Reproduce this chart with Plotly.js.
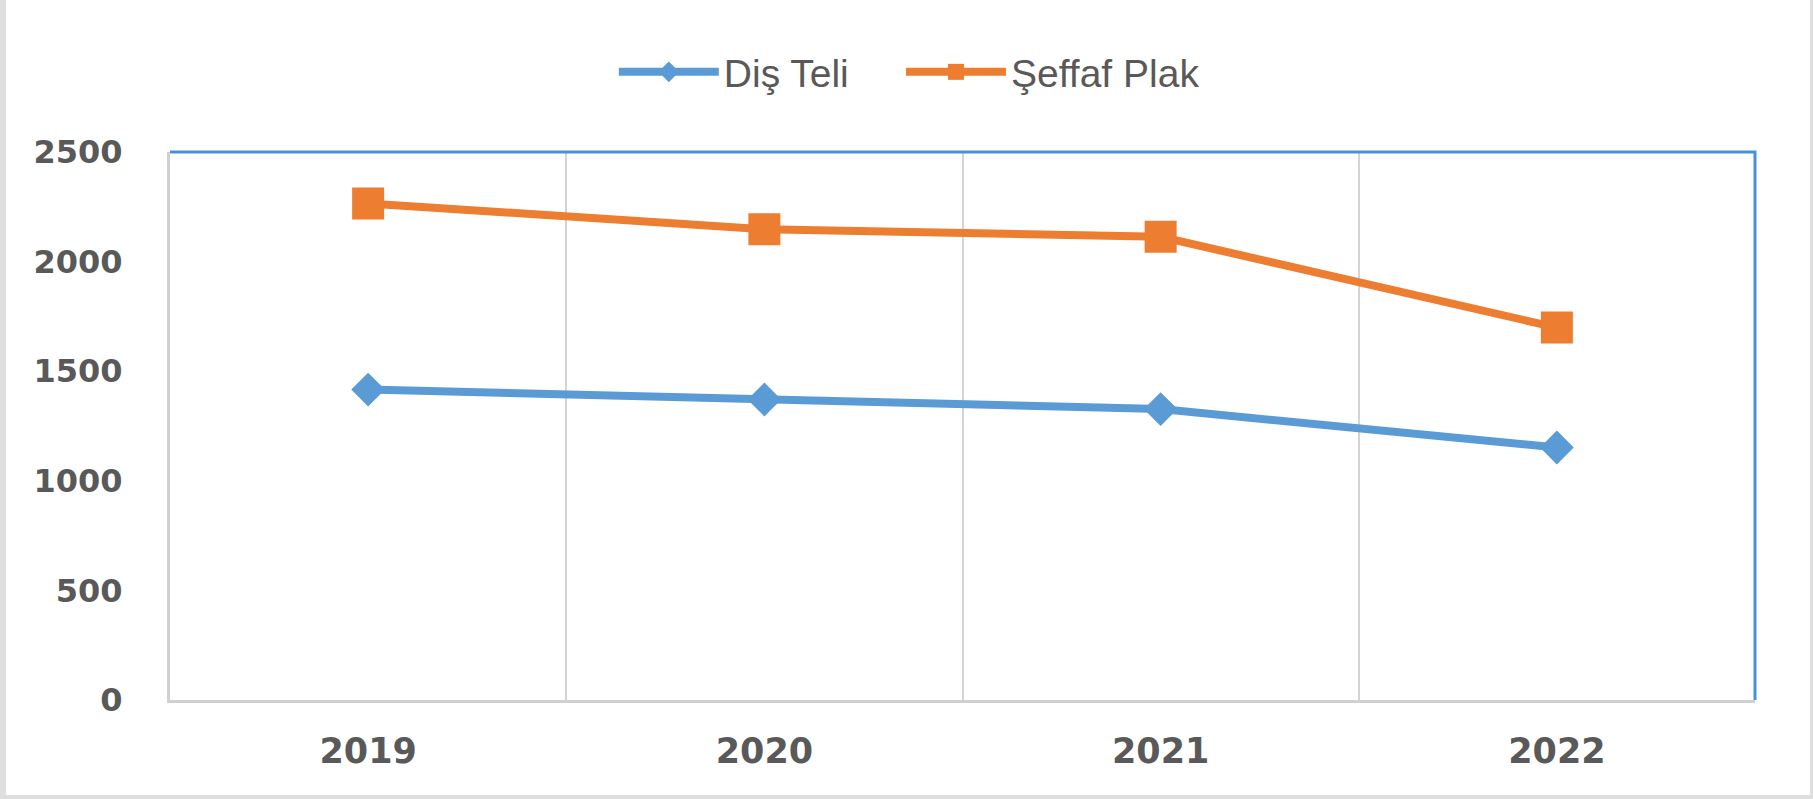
<!DOCTYPE html>
<html>
<head>
<meta charset="utf-8">
<script src="https://cdn.plot.ly/plotly-3.0.1.min.js"></script>
<style>
  body { margin: 0; background: #fff; }
  #wrap { position: relative; width: 1813px; height: 799px; }
  #chart { width: 1813px; height: 799px; }
  #frame {
    position: absolute; left: 0; top: 0; width: 1813px; height: 799px;
    box-sizing: border-box; pointer-events: none;
    border-left: 6px solid #dedede; border-right: 3px solid #dedede; border-bottom: 4px solid #dedede;
  }
</style>
</head>
<body>
<div id="wrap">
  <div id="chart"></div>
  <div id="frame"></div>
</div>
<script>
// years on the x axis
var years = ['2019', '2020', '2021', '2022'];

// values
var disTeli = [1416, 1371, 1327, 1152];
var seffafPlak = [2265, 2148, 2113, 1699];

var blue = '#5B9BD5';
var orange = '#ED7D31';
var textGray = '#595959';

var data = [
    {
        type: 'scatter',
        mode: 'lines+markers',
        x: years,
        y: disTeli,
        name: 'Diş Teli',
        legend: 'legend',
        line: { color: blue, width: 8 },
        marker: { symbol: 'diamond', size: 26, color: blue }
    },
    {
        type: 'scatter',
        mode: 'lines+markers',
        x: years,
        y: seffafPlak,
        name: 'Şeffaf Plak',
        legend: 'legend2',
        line: { color: orange, width: 8 },
        marker: { symbol: 'square', size: 32, color: orange }
    }
];

var legendFont = { family: 'Liberation Sans, Arial, sans-serif', size: 39, color: textGray };

var layout = {
    width: 1813,
    height: 799,
    margin: { l: 170, r: 58, t: 152, b: 99 },
    paper_bgcolor: '#ffffff',
    plot_bgcolor: '#ffffff',
    showlegend: true,
    legend: {
        orientation: 'h',
        x: 0.280,
        xanchor: 'left',
        y: 1.146,
        yanchor: 'middle',
        itemwidth: 100,
        font: legendFont
    },
    legend2: {
        orientation: 'h',
        x: 0.4612,
        xanchor: 'left',
        y: 1.146,
        yanchor: 'middle',
        itemwidth: 100,
        font: legendFont
    },
    xaxis: {
        type: 'category',
        range: [-0.5, 3.5],
        tickson: 'boundaries',
        showgrid: true,
        gridcolor: '#d4d4d4',
        gridwidth: 2,
        showline: true,
        linecolor: '#d0d0d0',
        linewidth: 3,
        ticks: '',
        ticklabelstandoff: 18,
        tickfont: { family: 'DejaVu Sans, sans-serif', size: 35, color: textGray, weight: 'bold' },
        zeroline: false
    },
    yaxis: {
        range: [0, 2500],
        tickvals: [0, 500, 1000, 1500, 2000, 2500],
        showgrid: false,
        showline: true,
        linecolor: '#d0d0d0',
        linewidth: 3,
        ticks: '',
        ticklabelstandoff: 38,
        tickfont: { family: 'DejaVu Sans, sans-serif', size: 32, color: textGray, weight: 'bold' },
        zeroline: false
    },
    shapes: [
        // blue frame on top and right of the plot area
        {
            type: 'path', xref: 'paper', yref: 'paper',
            path: 'M 0 1 L 1 1 L 1 0',
            line: { color: '#4A90D9', width: 3 }
        }
    ]
};

Plotly.newPlot('chart', data, layout, { displayModeBar: false, staticPlot: true });
</script>
</body>
</html>
